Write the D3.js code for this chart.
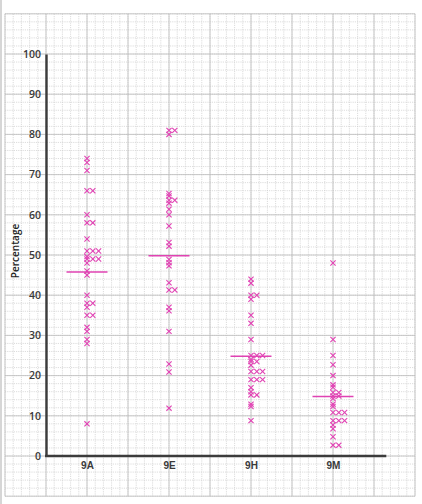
<!DOCTYPE html>
<html>
<head>
<meta charset="utf-8">
<script src="https://cdn.jsdelivr.net/npm/d3@7"></script>
<style>
  body { margin: 0; background: #fff; }
  svg { display: block; font-family: "Open Sans", "Noto Sans", sans-serif; }
</style>
</head>
<body>
<svg id="chart"></svg>
<script>
const categories = ["9A", "9E", "9H", "9M"];
const scores9A = [74, 73, 71, 66, 66, 60, 58, 58, 54, 51, 51, 51, 49.6, 49, 49, 49, 48, 46, 45, 40, 38, 38, 37, 35, 35, 32, 31, 29, 28, 8];
const scores9E = [81, 81, 80, 65.3, 64.7, 63.6, 63.6, 62.9, 61.4, 60, 57.2, 53.1, 52.2, 48.9, 48.1, 47.3, 43.1, 41.3, 41.3, 37, 36.1, 31, 22.9, 20.9, 11.9];
const scores9H = [44, 43, 40, 40, 39, 35, 33, 29, 25, 25, 25, 24, 23.5, 23.5, 22.6, 21, 21, 21, 19, 19, 19, 17, 16, 15.2, 15.2, 12.9, 12.3, 8.8];
const scores9M = [48, 29, 25, 22.7, 20, 17.7, 17.1, 15.8, 15.8, 14.9, 14.9, 14.3, 12.9, 12.3, 10.8, 10.8, 10.8, 8.8, 8.8, 8.8, 7.7, 6.8, 4.8, 2.7, 2.7];
const means = [45.8, 49.8, 24.8, 14.8];
const yTicks = [0, 10, 20, 30, 40, 50, 60, 70, 80, 90, 100];

const scores = [scores9A, scores9E, scores9H, scores9M];

const width = 422;
const height = 504;
const pink = "#e043b3";

const svg = d3.select("#chart").attr("width", width).attr("height", height);

// graph paper columns: 10 big squares across
const col = d3.scaleLinear().domain([0, 10]).range([5, 415]);
const y = d3.scaleLinear().domain([0, 100]).range([456, 54]);
const x = d3
  .scalePoint()
  .domain(categories)
  .range([col(2), col(8)]);

svg.append("rect").attr("width", width).attr("height", height).attr("fill", "#fff");

const grid = svg.append("g");

// minor grid
grid
  .selectAll("line.vminor")
  .data(d3.range(0, 10.01, 0.2))
  .join("line")
  .attr("x1", (d) => col(d))
  .attr("x2", (d) => col(d))
  .attr("y1", y(110))
  .attr("y2", y(-10))
  .attr("stroke", "#cdcdcd")
  .attr("stroke-width", 0.7)
  .attr("stroke-dasharray", "1.2,1");

grid
  .selectAll("line.hminor")
  .data(d3.range(-10, 110.01, 2))
  .join("line")
  .attr("x1", col(0))
  .attr("x2", col(10))
  .attr("y1", (d) => y(d))
  .attr("y2", (d) => y(d))
  .attr("stroke", "#cdcdcd")
  .attr("stroke-width", 0.7)
  .attr("stroke-dasharray", "1.2,1");

// major grid
grid
  .append("g")
  .selectAll("line")
  .data(d3.range(0, 11))
  .join("line")
  .attr("x1", (d) => col(d))
  .attr("x2", (d) => col(d))
  .attr("y1", y(110))
  .attr("y2", y(-10))
  .attr("stroke", "#bdbdbd")
  .attr("stroke-width", 0.8);

grid
  .append("g")
  .selectAll("line")
  .data(d3.range(-10, 111, 10))
  .join("line")
  .attr("x1", col(0))
  .attr("x2", col(10))
  .attr("y1", (d) => y(d))
  .attr("y2", (d) => y(d))
  .attr("stroke", "#bdbdbd")
  .attr("stroke-width", 0.8);

// scan edge on the left
svg
  .append("line")
  .attr("x1", 1)
  .attr("x2", 1)
  .attr("y1", 0)
  .attr("y2", height)
  .attr("stroke", "#d6d6d6")
  .attr("stroke-width", 2);

// y axis
const yAxis = svg
  .append("g")
  .attr("transform", `translate(${col(1)},0)`)
  .call(d3.axisLeft(y).tickValues(yTicks).tickSize(0).tickSizeOuter(0).tickPadding(5));

yAxis.select(".domain").attr("stroke", "#3c3c3c").attr("stroke-width", 2.4);
yAxis
  .selectAll("text")
  .attr("font-size", 10.5)
  .attr("font-weight", 600)
  .attr("font-family", "'Open Sans', sans-serif")
  .attr("fill", "#3a3a3a");

// x axis
svg
  .append("line")
  .attr("x1", col(1) - 1)
  .attr("x2", col(9.3))
  .attr("y1", y(0))
  .attr("y2", y(0))
  .attr("stroke", "#3c3c3c")
  .attr("stroke-width", 2.4);

const xAxis = svg
  .append("g")
  .attr("transform", `translate(0,${y(0)})`)
  .call(d3.axisBottom(x).tickSize(0).tickPadding(6));

xAxis.select(".domain").remove();
xAxis
  .selectAll("text")
  .attr("font-size", 10)
  .attr("font-weight", 600)
  .attr("fill", "#3a3a3a");

svg
  .append("text")
  .attr("transform", `translate(15,${y(51)}) rotate(-90)`)
  .attr("text-anchor", "middle")
  .attr("dominant-baseline", "central")
  .attr("font-size", 10)
  .attr("font-weight", 600)
  .attr("fill", "#222")
  .text("Percentage");

// marks: repeated values sit side by side
const points = [];
categories.forEach((cat, i) => {
  const seen = new Map();
  scores[i].forEach((v) => {
    const k = seen.get(v) || 0;
    seen.set(v, k + 1);
    points.push({ cat, value: v, slot: k });
  });
});

const s = 2.6;
const marks = svg
  .append("g")
  .selectAll("g")
  .data(points)
  .join("g")
  .attr("transform", (d) => `translate(${x(d.cat) + d.slot * 5.8},${y(d.value)})`)
  .attr("stroke", pink)
  .attr("stroke-width", 1.1);

marks.append("line").attr("x1", -s).attr("y1", -s).attr("x2", s).attr("y2", s);
marks.append("line").attr("x1", -s).attr("y1", s).attr("x2", s).attr("y2", -s);

// mean lines
svg
  .append("g")
  .selectAll("line")
  .data(categories)
  .join("line")
  .attr("x1", (d) => x(d) - 20.5)
  .attr("x2", (d) => x(d) + 20.5)
  .attr("y1", (d, i) => y(means[i]))
  .attr("y2", (d, i) => y(means[i]))
  .attr("stroke", pink)
  .attr("stroke-width", 1.5);
</script>
</body>
</html>
